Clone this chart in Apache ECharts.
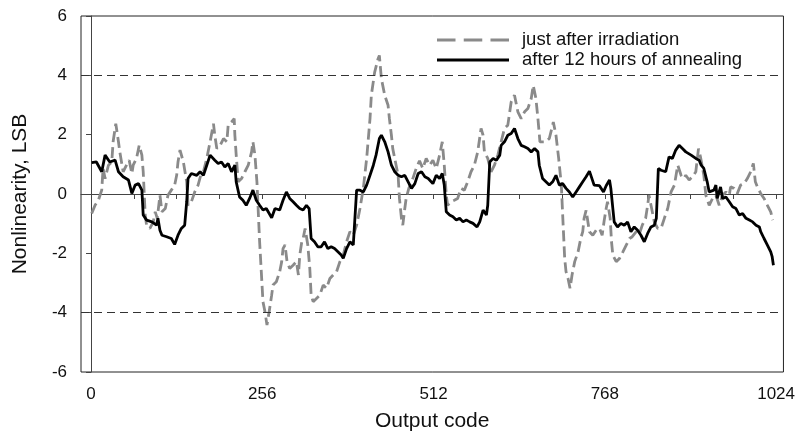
<!DOCTYPE html>
<html>
<head>
<meta charset="utf-8">
<script src="https://cdn.jsdelivr.net/npm/echarts@6/dist/echarts.min.js"></script>
<style>
  html, body { margin: 0; padding: 0; background: #fff; }
  #chart { width: 798px; height: 439px; }
</style>
</head>
<body>
<div id="chart"></div>
<script>
// Integral nonlinearity of the ADC vs. output code, two measurement states.
const seriesNames = ['just after irradiation', 'after 12 hours of annealing'];

const xTickLabels = [0, 256, 512, 768, 1024];
const xMinorTicks = [0, 64, 128, 192, 256, 320, 384, 448, 512, 576, 640, 704, 768, 832, 896, 960, 1024];
const yTickLabels = [-6, -4, -2, 0, 2, 4, 6];
const limitLevels = [4, -4];

// [output code, nonlinearity in LSB]
const afterIrradiation = [
  [1,-0.66],[6,-0.38],[11,-0.21],[16,0.13],[18,0.86],[21,0.52],[26,0.97],[31,1.08],[33,1.76],[37,2.37],
  [41,1.76],[43,1.42],[48,0.75],[53,0.97],[57,1.14],[61,0.69],[63,0.97],[68,1.20],[72,1.64],[76,1.31],
  [78,0.75],[81,-0.71],[83,-1.05],[88,-1.16],[93,-0.94],[96,-0.60],[99,-0.82],[103,-0.04],[106,-0.60],[111,-0.49],
  [115,-0.04],[120,0.13],[125,0.30],[128,0.63],[130,1.08],[133,1.48],[138,1.08],[143,0.41],[145,-0.38],[150,-0.26],
  [155,0.07],[160,0.30],[164,0.63],[168,0.75],[173,1.20],[178,1.76],[183,2.37],[185,1.98],[188,1.53],[193,1.64],
  [198,1.87],[203,1.76],[205,2.32],[210,2.43],[214,2.54],[215,1.98],[217,1.31],[220,0.41],[225,0.52],[230,0.75],
  [235,0.97],[240,1.42],[242,1.76],[245,1.31],[248,0.40],[252,-1.61],[257,-3.63],[260,-3.97],[263,-4.42],[267,-3.86],
  [270,-3.41],[272,-3.07],[277,-2.96],[282,-2.62],[285,-2.28],[287,-1.84],[290,-1.72],[293,-2.28],[297,-2.51],[302,-2.40],
  [307,-2.28],[310,-2.73],[312,-2.06],[315,-1.61],[317,-1.50],[320,-1.16],[324,-1.72],[327,-2.51],[329,-3.41],[332,-3.63],
  [337,-3.52],[342,-3.41],[347,-3.07],[352,-3.18],[357,-2.85],[362,-2.73],[367,-2.62],[372,-2.28],[377,-2.06],[382,-1.61],
  [387,-1.27],[392,-1.39],[397,-1.05],[402,-0.49],[407,0.19],[412,1.20],[417,2.54],[419,3.33],[424,4.11],[429,4.56],
  [431,4.67],[434,3.89],[439,3.33],[444,2.99],[446,2.54],[449,1.98],[451,1.53],[456,0.97],[459,0.63],[461,-0.15],
  [464,-0.82],[466,-1.05],[469,-0.49],[471,-0.15],[475,0.19],[481,0.52],[486,0.86],[491,1.12],[496,0.86],[501,1.20],
  [506,0.97],[511,1.14],[516,0.86],[521,1.31],[525,1.76],[528,0.97],[531,-0.04],[533,-0.38],[538,-0.26],[543,-0.21],
  [548,-0.15],[553,0.19],[558,0.13],[563,0.41],[568,0.75],[573,0.97],[578,1.42],[583,2.21],[586,1.98],[588,1.42],
  [593,1.20],[598,0.75],[603,0.97],[608,1.31],[613,1.76],[618,2.21],[623,2.32],[628,3.10],[633,3.33],[638,2.77],
  [643,2.54],[648,2.77],[653,2.88],[658,3.22],[661,3.66],[665,3.22],[668,2.54],[671,1.76],[675,1.76],[680,1.76],
  [685,1.87],[690,2.32],[691,2.43],[695,1.98],[699,1.20],[703,0.30],[705,-0.71],[708,-2.17],[710,-2.62],[713,-2.85],
  [716,-3.18],[719,-2.73],[723,-2.28],[728,-1.95],[732,-1.50],[735,-1.27],[737,-0.82],[740,-0.55],[742,-0.49],[745,-1.27],
  [750,-1.39],[755,-1.22],[760,-1.16],[764,-1.39],[767,-0.90],[770,-0.49],[772,-0.26],[776,-0.82],[778,-1.61],[780,-2.06],
  [785,-2.28],[790,-2.17],[795,-1.95],[800,-1.72],[805,-1.50],[809,-1.44],[815,-1.27],[819,-1.39],[824,-1.05],[829,-0.82],
  [832,-0.38],[834,-0.04],[837,-0.38],[842,-0.94],[847,-1.16],[852,-1.16],[857,-0.82],[862,-0.49],[867,0.07],[872,0.30],
  [877,0.97],[882,0.63],[886,0.52],[889,0.63],[894,0.47],[899,0.58],[904,0.75],[908,1.53],[911,1.25],[916,0.63],
  [919,-0.04],[924,-0.38],[929,-0.15],[934,-0.04],[939,-0.38],[944,-0.04],[949,0.07],[954,-0.04],[956,0.24],[961,0.19],
  [966,0.02],[971,0.30],[976,0.35],[981,0.52],[986,0.75],[990,1.03],[993,0.41],[996,0.24],[1001,0.02],[1006,-0.15],
  [1011,-0.38],[1016,-0.60],[1019,-0.88]
];

const afterAnnealing = [
  [1,1.06],[8,1.08],[16,0.75],[21,1.31],[28,1.08],[36,1.14],[41,0.75],[48,0.58],[56,0.47],[61,0.02],
  [66,0.30],[71,0.35],[76,0.13],[78,-0.71],[83,-0.88],[91,-0.94],[98,-1.05],[100,-0.82],[103,-1.22],[106,-1.39],
  [113,-1.44],[120,-1.50],[125,-1.70],[130,-1.39],[135,-1.16],[140,-1.05],[143,-0.26],[145,0.52],[150,0.69],[158,0.63],
  [163,0.75],[168,0.63],[173,0.97],[178,1.31],[180,1.36],[185,1.14],[190,1.03],[195,1.08],[200,0.91],[205,1.03],
  [210,0.75],[215,0.97],[217,0.41],[222,-0.10],[227,-0.21],[232,-0.38],[237,-0.15],[242,0.13],[247,-0.21],[252,-0.38],
  [257,-0.54],[262,-0.49],[270,-0.80],[275,-0.49],[282,-0.54],[287,-0.21],[292,0.07],[297,-0.15],[302,-0.26],[307,-0.38],
  [312,-0.49],[317,-0.54],[322,-0.38],[326,-0.49],[329,-1.50],[334,-1.61],[339,-1.78],[344,-1.78],[349,-1.61],[354,-1.84],
  [359,-1.78],[364,-1.84],[369,-1.95],[374,-2.06],[377,-2.17],[382,-1.84],[387,-1.61],[392,-1.72],[397,0.13],[402,0.13],
  [407,0.07],[412,0.30],[417,0.63],[422,0.97],[426,1.31],[431,1.87],[434,1.98],[439,1.76],[444,1.42],[449,0.97],
  [454,0.75],[459,0.63],[464,0.58],[469,0.63],[474,0.41],[479,0.19],[484,0.35],[489,0.69],[494,0.75],[499,0.58],
  [504,0.52],[511,0.35],[516,0.63],[521,0.52],[525,0.69],[528,0.30],[531,-0.60],[536,-0.71],[541,-0.77],[546,-0.88],
  [551,-0.82],[556,-0.94],[561,-0.88],[566,-0.94],[571,-0.99],[577,-1.11],[581,-0.94],[586,-0.54],[591,-0.71],[593,-0.38],
  [596,1.08],[601,1.20],[606,1.14],[611,1.31],[613,1.64],[618,1.76],[623,1.98],[628,2.04],[633,2.21],[638,1.87],
  [643,1.64],[648,1.59],[653,1.53],[658,1.42],[663,1.53],[668,1.42],[670,0.97],[675,0.52],[680,0.41],[685,0.30],
  [690,0.41],[695,0.63],[700,0.30],[705,0.35],[710,0.19],[715,0.07],[720,-0.10],[725,0.07],[730,0.24],[735,0.41],
  [740,0.58],[745,0.77],[752,0.30],[760,0.28],[766,0.07],[770,0.28],[775,0.47],[777,0.19],[780,-0.49],[782,-0.94],
  [787,-1.11],[792,-0.99],[797,-1.05],[802,-0.94],[807,-1.27],[812,-1.11],[817,-1.22],[822,-1.39],[827,-1.61],[832,-1.33],
  [837,-1.11],[842,-1.05],[845,-0.82],[848,0.86],[852,0.80],[859,0.75],[864,1.25],[869,1.20],[874,1.48],[879,1.64],
  [884,1.53],[889,1.42],[897,1.31],[904,1.20],[909,1.14],[912,0.97],[916,0.86],[921,0.41],[924,0.07],[926,0.02],
  [931,0.13],[934,0.30],[936,-0.15],[941,0.24],[944,-0.15],[949,-0.10],[954,-0.26],[959,-0.43],[964,-0.49],[969,-0.71],
  [974,-0.66],[979,-0.82],[984,-0.88],[989,-0.94],[994,-1.05],[999,-1.11],[1001,-1.27],[1006,-1.50],[1011,-1.72],[1013,-1.78],
  [1016,-1.95],[1018,-2.10],[1020,-2.40]
];

const FONT = "'Liberation Sans', Arial, sans-serif";

// Legend keys: three dashes for the irradiated curve, a plain bar for the annealed one
const dashedKey = 'path://M0,0h18v3h-18z M26,0h18v3h-18z M52,0h18v3h-18z';
const solidKey = 'path://M0,0h72v3h-72z';

const chart = echarts.init(document.getElementById('chart'), null, { renderer: 'canvas' });

chart.setOption({
  backgroundColor: '#ffffff',
  animation: false,
  textStyle: { fontFamily: FONT },
  grid: {
    left: 81, top: 16, width: 705, height: 356,
    show: true, borderColor: '#222', borderWidth: 1, backgroundColor: 'transparent'
  },
  legend: {
    orient: 'vertical',
    left: 432,
    top: 25,
    itemWidth: 72,
    itemHeight: 14,
    itemGap: 0,
    data: [
      { name: seriesNames[0], icon: dashedKey },
      { name: seriesNames[1], icon: solidKey }
    ],
    textStyle: { fontFamily: FONT, fontSize: 18.5, lineHeight: 20, color: '#111', padding: [0, 0, 0, 8] }
  },
  xAxis: {
    type: 'value',
    min: -15,
    max: 1035,
    name: 'Output code',
    nameLocation: 'middle',
    nameGap: 39,
    nameTextStyle: { fontFamily: FONT, fontSize: 21, color: '#111' },
    axisLine: { show: true, lineStyle: { color: '#444', width: 1 } },
    axisTick: { show: true, inside: false, length: 5, customValues: xMinorTicks, lineStyle: { color: '#444' } },
    axisLabel: { customValues: xTickLabels, margin: 14, fontFamily: FONT, fontSize: 17, color: '#111',
      formatter: v => String(v) },
    splitLine: { show: false }
  },
  yAxis: {
    type: 'value',
    min: -6,
    max: 6,
    interval: 2,
    name: 'Nonlinearity, LSB',
    nameLocation: 'middle',
    nameGap: 50,
    nameRotate: 90,
    nameTextStyle: { fontFamily: FONT, fontSize: 21, color: '#111' },
    axisLine: { show: true, lineStyle: { color: '#444', width: 1 } },
    axisTick: { show: true, inside: false, length: 5, lineStyle: { color: '#444' } },
    axisLabel: { margin: 14, fontFamily: FONT, fontSize: 17, color: '#111',
      formatter: v => (yTickLabels.indexOf(v) >= 0 ? String(v) : '') },
    splitLine: { show: false }
  },
  series: [
    {
      name: seriesNames[0],
      type: 'line',
      data: afterIrradiation,
      symbol: 'none',
      smooth: false,
      lineStyle: { color: '#8a8a8a', width: 2.8, type: [11, 5] },
      itemStyle: { color: '#8a8a8a' },
      z: 2,
      markLine: {
        silent: true,
        symbol: ['none', 'none'],
        label: { show: false },
        lineStyle: { color: '#333', width: 1, type: [8, 5] },
        data: limitLevels.map(v => ({ yAxis: v }))
      }
    },
    {
      name: seriesNames[1],
      type: 'line',
      data: afterAnnealing,
      symbol: 'none',
      smooth: false,
      lineStyle: { color: '#000', width: 2.8 },
      itemStyle: { color: '#000' },
      z: 3
    }
  ]
});
</script>
</body>
</html>
